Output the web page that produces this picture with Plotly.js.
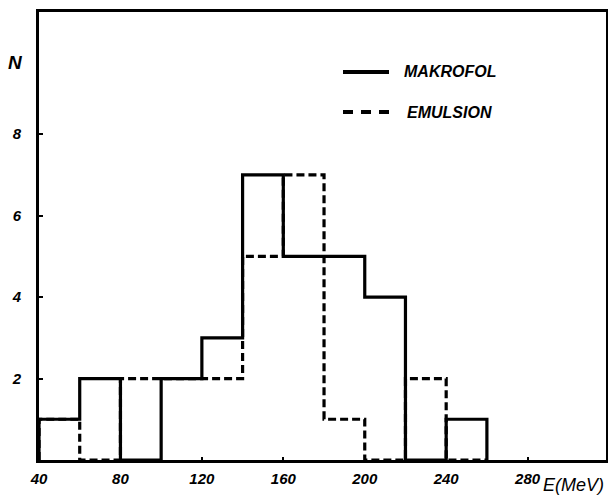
<!DOCTYPE html>
<html>
<head>
<meta charset="utf-8">
<script src="https://cdn.plot.ly/plotly-3.0.1.min.js"></script>
<style>html,body{margin:0;padding:0;background:#fff;}#chart{width:608px;height:497px;}</style>
</head>
<body>
<div id="chart"></div>
<script>
// Bin edges (MeV) and counts per 20 MeV bin
const binEdges = [40, 60, 80, 100, 120, 140, 160, 180, 200, 220, 240, 260];
const makrofolCounts = [1, 2, 0, 2, 3, 7, 5, 5, 4, 0, 1];
const emulsionCounts = [1, 0, 2, 2, 2, 5, 7, 1, 0, 2, 0];
const xTickVals = [40, 80, 120, 160, 200, 240, 280];
const xTickText = ['40', '80', '120', '160', '200', '240', '280'];
const yTickVals = [2, 4, 6, 8];
const yTickText = ['2', '4', '6', '8'];
const seriesNames = ['MAKROFOL', 'EMULSION'];

function stepOutline(edges, counts) {
  const xs = [edges[0]], ys = [0];
  for (let i = 0; i < counts.length; i++) {
    xs.push(edges[i], edges[i + 1]);
    ys.push(counts[i], counts[i]);
  }
  xs.push(edges[edges.length - 1]);
  ys.push(0);
  return {x: xs, y: ys};
}

const W = 608, H = 497;
const M = {l: 39, r: 2, t: 12, b: 37};
const pw = W - M.l - M.r, ph = H - M.t - M.b;
const px = v => (v - M.l) / pw;       // pixel x -> paper
const py = v => (H - M.b - v) / ph;   // pixel y -> paper

const emu = stepOutline(binEdges, emulsionCounts);
const mak = stepOutline(binEdges, makrofolCounts);

const traces = [
  {x: emu.x, y: emu.y, mode: 'lines', name: seriesNames[1],
   line: {color: '#000', width: 3.2, dash: '8px,4px'}, hoverinfo: 'skip'},
  {x: mak.x, y: mak.y, mode: 'lines', name: seriesNames[0],
   line: {color: '#000', width: 3.2}, hoverinfo: 'skip'}
];

const boldItal = {family: 'Liberation Sans, Arial, sans-serif', size: 14, weight: 'bold', style: 'italic', color: '#000'};

const layout = {
  width: W, height: H,
  margin: {l: M.l, r: M.r, t: M.t, b: M.b, pad: 0},
  paper_bgcolor: '#fff', plot_bgcolor: '#fff',
  showlegend: false,
  xaxis: {
    range: [40, 318.5], showline: true, mirror: true, linecolor: '#000', linewidth: 3,
    showgrid: false, zeroline: false, ticks: 'inside', ticklen: 3, tickwidth: 2, tickcolor: '#000',
    tickmode: 'array', tickvals: xTickVals, ticktext: xTickText,
    tickfont: Object.assign({}, boldItal, {size: 15}), ticklabelstandoff: 3
  },
  yaxis: {
    range: [0, 11], showline: true, mirror: true, linecolor: '#000', linewidth: 3,
    showgrid: false, zeroline: false, ticks: 'inside', ticklen: 4, tickwidth: 2, tickcolor: '#000',
    tickmode: 'array', tickvals: yTickVals, ticktext: yTickText,
    tickfont: Object.assign({}, boldItal, {size: 15}), ticklabelstandoff: 12
  },
  shapes: [
    {type: 'line', xref: 'paper', yref: 'paper', x0: px(343), x1: px(389), y0: py(72), y1: py(72),
     line: {color: '#000', width: 4}},
    {type: 'line', xref: 'paper', yref: 'paper', x0: px(343), x1: px(389), y0: py(112), y1: py(112),
     line: {color: '#000', width: 4, dash: '10px,8px'}}
  ],
  annotations: [
    {xref: 'paper', yref: 'paper', x: px(402), y: py(72), xanchor: 'left', yanchor: 'middle',
     text: seriesNames[0], showarrow: false, font: Object.assign({}, boldItal, {size: 16})},
    {xref: 'paper', yref: 'paper', x: px(405), y: py(112), xanchor: 'left', yanchor: 'middle',
     text: seriesNames[1], showarrow: false, font: Object.assign({}, boldItal, {size: 16})},
    {xref: 'paper', yref: 'paper', x: px(15), y: py(62), xanchor: 'center', yanchor: 'middle',
     text: 'N', showarrow: false, font: Object.assign({}, boldItal, {size: 19})},
    {xref: 'paper', yref: 'paper', x: px(605), y: py(485), xanchor: 'right', yanchor: 'middle',
     text: 'E(MeV)', showarrow: false, borderpad: 0,
     font: {family: 'Liberation Sans, Arial, sans-serif', size: 18, style: 'italic', color: '#000'}}
  ]
};

Plotly.newPlot('chart', traces, layout, {displayModeBar: false, staticPlot: true});
</script>
</body>
</html>
